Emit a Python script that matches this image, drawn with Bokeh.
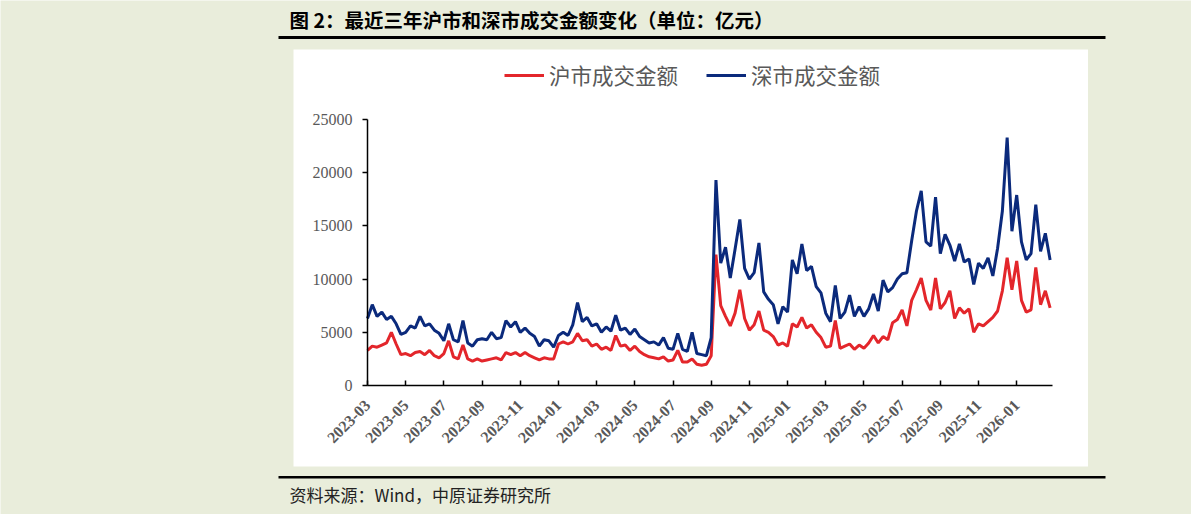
import math
from bokeh.plotting import figure
from bokeh.models import Range1d, FixedTicker, BoxAnnotation, Label, Legend, LegendItem
from bokeh.embed import file_html
from bokeh.resources import INLINE

# ---------------- data (one sample per ~5 trading days) ----------------
tick_labels = ["2023-03", "2023-05", "2023-07", "2023-09", "2023-11",
               "2024-01", "2024-03", "2024-05", "2024-07", "2024-09", "2024-11",
               "2025-01", "2025-03", "2025-05", "2025-07", "2025-09", "2025-11",
               "2026-01"]
samples_per_label = 8

# 沪市成交金额 (亿元)
sh_turnover = [
    3300, 3700, 3600, 3800, 4000, 5000, 3900, 2900,
    3000, 2800, 3100, 3200, 2900, 3300, 2800, 2600,
    3000, 4200, 2700, 2500, 3800, 2500, 2300, 2500,
    2300, 2400, 2500, 2600, 2400, 3100, 2900, 3100,
    2800, 3100, 2800, 2600, 2400, 2600, 2500, 2500,
    3900, 4100, 3900, 4100, 4900, 4200, 4300, 3700,
    3900, 3400, 3600, 3300, 4700, 3700, 3800, 3300,
    3700, 3200, 2900, 2700, 2600, 2500, 2700, 2300,
    2400, 3300, 2200, 2200, 2500, 2000, 1900, 2000,
    2800, 12300, 7500, 6500, 5600, 6800, 9000, 6300,
    5200, 5700, 7000, 5200, 5000, 4600, 3800, 4000,
    3700, 5800, 5500, 6400, 5400, 5700, 5000, 4500,
    3600, 3700, 6100, 3500, 3700, 3900, 3400, 3800,
    3500, 4000, 4700, 4000, 4600, 4300, 5900, 6200,
    7100, 5600, 8000, 9000, 10100, 8000, 7100, 10100,
    7200, 7800, 8900, 6300, 7300, 6800, 7200, 5000,
    5800, 5600, 6000, 6400, 7000, 8900, 12000, 9000,
    11700, 8000, 6900, 7100, 11100, 7600, 8900, 7300,
]

# 深市成交金额 (亿元)
sz_turnover = [
    6300, 7600, 6500, 6900, 6200, 6500, 5800, 4800,
    5000, 5600, 5400, 6500, 5600, 5800, 5200, 4900,
    4200, 5800, 4300, 4100, 6100, 4000, 3700, 4300,
    4400, 4300, 5000, 4400, 4500, 6100, 5500, 6000,
    5000, 5400, 4900, 4600, 3700, 4300, 4200, 3600,
    4700, 5000, 4700, 5700, 7800, 6000, 6400, 5600,
    5800, 5000, 5500, 5100, 6600, 5200, 5400, 4800,
    5300, 4600, 4300, 4000, 4100, 3800, 4500, 3500,
    3400, 4900, 3400, 3200, 5000, 3000, 2900, 2800,
    4500, 19300, 11500, 13000, 10100, 12800, 15600, 11000,
    10000, 10600, 13400, 8800, 8100, 7600, 5800, 7400,
    6900, 11800, 10500, 13300, 10800, 11200, 9300, 8700,
    6800, 6000, 9400, 6300, 6900, 8500, 6500, 7400,
    6500, 7200, 8600, 7000, 9900, 8800, 9200, 10000,
    10500, 10600, 13600, 16400, 18300, 13500, 13100, 17700,
    12400, 14200, 13200, 11700, 13300, 11600, 11900, 9500,
    11500, 11000, 12000, 10300, 12900, 16400, 23300, 14500,
    17900, 13500, 11800, 12400, 17000, 12600, 14300, 11800,
]

sample_index = list(range(len(sh_turnover)))

# ---------------- style / layout ----------------
BG = "#E9EDDB"
RED = "#E3262B"
BLUE = "#0B2A7C"
GRAY = "#595959"

W, H = 1191, 514
# where the data area sits on the canvas (pixels)
AX_L, AX_R, AX_T, AX_B = 367, 1052, 119, 385
D_X0, D_X1 = 0, 143.5          # x data span covered by the axis
D_Y0, D_Y1 = 0, 25000          # y data span covered by the axis

sx = (AX_R - AX_L) / (D_X1 - D_X0)
sy = (AX_B - AX_T) / (D_Y1 - D_Y0)


def X(px):   # canvas pixel -> data x
    return D_X0 + (px - AX_L) / sx


def Y(py):   # canvas pixel -> data y
    return D_Y0 + (AX_B - py) / sy


p = figure(width=W, height=H, title=None,
           x_range=Range1d(X(0), X(W)), y_range=Range1d(Y(H), Y(0)),
           output_backend="svg", toolbar_location=None, min_border=0)
p.border_fill_color = BG
p.background_fill_color = BG
p.outline_line_color = None
p.grid.visible = False

# white chart panel
p.add_layout(BoxAnnotation(left=X(293), right=X(1087.5), top=Y(49), bottom=Y(466),
                           fill_color="white", fill_alpha=1, line_alpha=0,
                           level="underlay"))

# rules
for t, b in [(35.5, 38.5), (475.5, 478)]:
    p.add_layout(BoxAnnotation(left=X(278), right=X(1105), top=Y(t), bottom=Y(b),
                               fill_color="black", fill_alpha=1, line_alpha=0,
                               level="underlay"))

p.add_layout(Label(x=X(289), y=Y(19), text="图 2：最近三年沪市和深市成交金额变化（单位：亿元）",
                   text_font="Noto Sans CJK SC", text_font_size="19.5px",
                   text_font_style="bold", text_color="black",
                   text_baseline="middle", text_align="left"))
p.add_layout(Label(x=X(289), y=Y(494), text="资料来源：Wind，中原证券研究所",
                   text_font="Noto Sans CJK SC", text_font_size="17px",
                   text_color="#222222", text_baseline="middle", text_align="left"))

r_sh = p.line(sample_index, sh_turnover, line_color=RED, line_width=3)
r_sz = p.line(sample_index, sz_turnover, line_color=BLUE, line_width=3)

legend = Legend(items=[LegendItem(label="沪市成交金额", renderers=[r_sh]),
                       LegendItem(label="深市成交金额", renderers=[r_sz])],
                orientation="horizontal", location=(504, H - 90),
                glyph_width=40, glyph_height=26, label_height=26,
                label_standoff=5, spacing=28, padding=0, margin=0,
                border_line_alpha=0, background_fill_alpha=0,
                label_text_font="Noto Sans CJK SC", label_text_font_size="21.5px",
                label_text_color=GRAY)
p.add_layout(legend)

# axes drawn at fixed data positions inside the canvas
xa = p.xaxis[0]
xa.fixed_location = 0
xa.bounds = (D_X0, D_X1)
xa.ticker = FixedTicker(ticks=[samples_per_label * i for i in range(len(tick_labels))])
xa.major_label_overrides = {samples_per_label * i: lab for i, lab in enumerate(tick_labels)}
xa.major_label_orientation = math.pi / 4
xa.major_label_text_font = "Liberation Serif"
xa.major_label_text_font_style = "bold"
xa.major_label_text_font_size = "16px"
xa.major_label_text_color = GRAY
xa.major_tick_in = 5
xa.major_tick_out = 0
xa.major_label_standoff = 17

ya = p.yaxis[0]
ya.fixed_location = 0
ya.bounds = (D_Y0, D_Y1)
ya.ticker = FixedTicker(ticks=[0, 5000, 10000, 15000, 20000, 25000])
ya.major_label_text_font = "Liberation Serif"
ya.major_label_text_font_size = "16px"
ya.major_label_text_color = GRAY
ya.major_tick_in = 0
ya.major_tick_out = 5
ya.major_label_standoff = 10

for ax in (xa, ya):
    ax.axis_line_color = "black"
    ax.axis_line_width = 1.5
    ax.major_tick_line_color = "black"
    ax.major_tick_line_width = 1.5
    ax.minor_tick_in = 0
    ax.minor_tick_out = 0

open("out.html", "w").write(file_html(p, INLINE))
